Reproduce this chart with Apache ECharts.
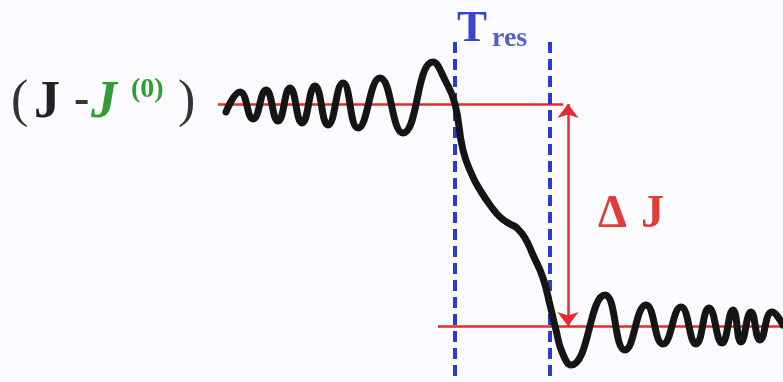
<!DOCTYPE html>
<html>
<head>
<meta charset="utf-8">
<script src="https://cdn.jsdelivr.net/npm/echarts@6/dist/echarts.min.js"></script>
<style>
html,body{margin:0;padding:0;background:#fcfbff;}
#c{width:783px;height:382px;}
</style>
</head>
<body>
<div id="c"></div>
<script>
// Curve (x = horizontal position, y = vertical level; y grows downward)
var curveX = [226,240,253,266,278,290,302,315,328,343,358,380,403,433,446,455,463,472,480,490,500,510,517,525,533,543,550,556,562,571,605,625,646,663,681,696,709,722,733,741,751,760,772,783];
var curveY = [112,92,119,90,121,88,123,86,125,83,128,78,133,62,82,104,150,175,190,205,217,224,228,238,255,278,305,330,352,365,295,350,305,344,307,344,308,343,310,342,312,340,312,325];

var upperLevel = 104;         // J - J(0) before
var lowerLevel = 326;         // after
var upperSpan = [218, 563];
var lowerSpan = [438, 783];
var tresBounds = [455, 550];  // T_res start / end
var dashTop = 42;
var arrowX = 568;

var labelJ = 'J';
var labelJ0 = 'J';
var labelSup = '(0)';
var labelT = 'T';
var labelRes = 'res';
var labelDelta = 'Δ';
var labelDJ = 'J';

var pts = curveX.map(function(x, i){ return [x, curveY[i]]; });

var chart = echarts.init(document.getElementById('c'));
var serif = '"Liberation Serif","DejaVu Serif",serif';
chart.setOption({
  backgroundColor: '#fcfbff',
  animation: false,
  grid: {left: 0, right: 0, top: 0, bottom: 0},
  xAxis: {type: 'value', min: 0, max: 783, show: false},
  yAxis: {type: 'value', min: 0, max: 382, inverse: true, show: false},
  series: [
    {
      type: 'line',
      data: [],
      silent: true,
      markLine: {
        silent: true,
        symbol: 'none',
        label: {show: false},
        lineStyle: {color: '#e52b2b', width: 2.5, type: 'solid'},
        data: [
          [{coord: [upperSpan[0], upperLevel]}, {coord: [upperSpan[1], upperLevel]}],
          [{coord: [lowerSpan[0], lowerLevel]}, {coord: [lowerSpan[1], lowerLevel]}]
        ]
      }
    },
    {
      type: 'line',
      data: [],
      silent: true,
      markLine: {
        silent: true,
        symbol: 'none',
        label: {show: false},
        lineStyle: {color: '#2a3ad8', width: 4, type: [11, 6]},
        data: [
          [{coord: [tresBounds[0], dashTop]}, {coord: [tresBounds[0], 382]}],
          [{coord: [tresBounds[1], dashTop]}, {coord: [tresBounds[1], 382]}]
        ]
      }
    },
    {
      type: 'line',
      data: [],
      silent: true,
      markLine: {
        silent: true,
        symbol: ['arrow', 'arrow'],
        symbolSize: [16, 14],
        label: {show: false},
        lineStyle: {color: '#e52b2b', width: 2.5, type: 'solid'},
        data: [
          [{coord: [arrowX, upperLevel]}, {coord: [arrowX, lowerLevel]}]
        ]
      }
    },
    {
      type: 'line',
      data: pts,
      smooth: 0.5,
      showSymbol: false,
      silent: true,
      z: 5,
      lineStyle: {color: '#151515', width: 7, cap: 'round', join: 'round'}
    }
  ],
  graphic: [
    {type: 'text', left: 11, top: 76, style: {text: '(', font: 'normal 52px ' + serif, fill: '#333'}},
    {type: 'text', left: 34, top: 78, style: {text: labelJ, font: 'bold 52px ' + serif, fill: '#222'}},
    {type: 'text', left: 74, top: 78, style: {text: '-', font: 'bold 46px ' + serif, fill: '#333'}},
    {type: 'text', left: 91, top: 78, style: {text: labelJ0, font: 'italic bold 52px ' + serif, fill: '#2e9e35'}},
    {type: 'text', left: 131, top: 76, style: {text: labelSup, font: 'bold 28px ' + serif, fill: '#2e9e35'}},
    {type: 'text', left: 178, top: 76, style: {text: ')', font: 'normal 52px ' + serif, fill: '#333'}},
    {type: 'text', left: 457, top: 7, style: {text: labelT, font: 'bold 45px ' + serif, fill: '#3a46d0'}},
    {type: 'text', left: 492, top: 25, style: {text: labelRes, font: 'bold 28px ' + serif, fill: '#5560cc'}},
    {type: 'text', left: 598, top: 192, style: {text: labelDelta, font: 'bold 46px ' + serif, fill: '#e33a3a'}},
    {type: 'text', left: 641, top: 192, style: {text: labelDJ, font: 'bold 46px ' + serif, fill: '#e33a3a'}}
  ]
});
</script>
</body>
</html>
